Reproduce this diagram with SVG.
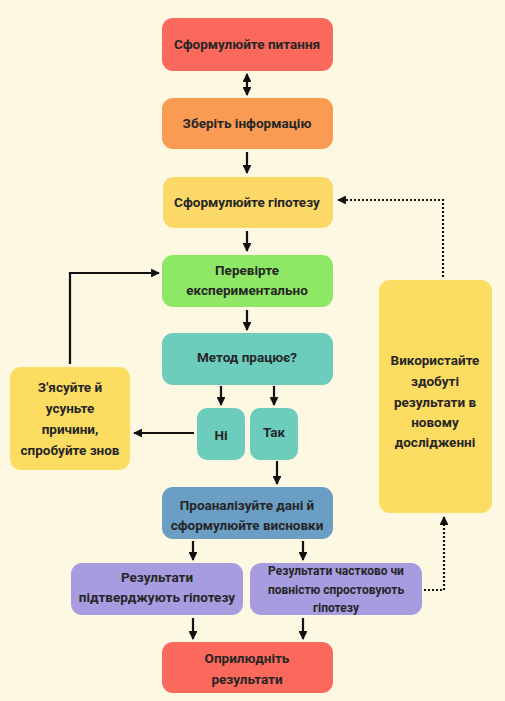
<svg xmlns="http://www.w3.org/2000/svg" width="505" height="701" viewBox="0 0 505 701">
<defs>
<style>
.t{font-family:Roboto,"Noto Sans","Liberation Sans",sans-serif;font-weight:bold;font-size:13.5px;fill:#262626;text-anchor:middle;dominant-baseline:central}
.s{font-size:12px}
.ln{stroke:#111;stroke-width:2.2;fill:none}
.dt{stroke:#111;stroke-width:2.2;fill:none;stroke-dasharray:2 2}
.red{fill:#fa695b}.org{fill:#fa9b53}.yel{fill:#fcd967}.grn{fill:#8fe865}.teal{fill:#6ccdbd}.blu{fill:#6a9ec4}.pur{fill:#a79ce0}.yel2{fill:#fddc62}
</style>
<marker id="a" viewBox="0 0 10 10" refX="9" refY="5" markerWidth="4" markerHeight="4" orient="auto-start-reverse" markerUnits="strokeWidth">
<path d="M0,0 L10,5 L0,10 z" fill="#111"/>
</marker>
</defs>
<rect width="505" height="701" fill="#fdf8e2"/>
<g id="n1"><rect class="red" x="162" y="18" width="171" height="53" rx="11"/><text class="t" x="247" y="44">Сформулюйте питання</text></g>
<g id="n2"><rect class="org" x="162" y="98" width="171" height="51" rx="11"/><text class="t" x="247" y="123">Зберіть інформацію</text></g>
<g id="n3"><rect class="yel" x="163" y="177" width="170" height="51" rx="11"/><text class="t" x="247" y="202">Сформулюйте гіпотезу</text></g>
<g id="n4"><rect class="grn" x="162" y="255" width="171" height="52" rx="11"/><text class="t" x="247" y="270">Перевірте</text><text class="t" x="247" y="290">експериментально</text></g>
<g id="n5"><rect class="teal" x="162" y="333" width="171" height="52" rx="11"/><text class="t" x="247" y="357">Метод працює?</text></g>
<g id="n6"><rect class="teal" x="197" y="408" width="48" height="52" rx="10"/><text class="t" x="221" y="435">Ні</text></g>
<g id="n7"><rect class="teal" x="250" y="408" width="48" height="52" rx="10"/><text class="t" x="274" y="432">Так</text></g>
<g id="n8"><rect class="yel2" x="10" y="367" width="120" height="103" rx="11"/><text class="t" x="70" y="387">З'ясуйте й</text><text class="t" x="70" y="408">усуньте</text><text class="t" x="70" y="429">причини,</text><text class="t" x="70" y="450">спробуйте знов</text></g>
<g id="n9"><rect class="blu" x="162" y="487" width="171" height="52" rx="11"/><text class="t" x="247" y="505">Проаналізуйте дані й</text><text class="t" x="247" y="525">сформулюйте висновки</text></g>
<g id="n10"><rect class="pur" x="71" y="563" width="172" height="52" rx="11"/><text class="t" x="157" y="577">Результати</text><text class="t" x="157" y="597">підтверджують гіпотезу</text></g>
<g id="n11"><rect class="pur" x="250" y="563" width="172" height="52" rx="11"/><text class="t s" x="336" y="571">Результати частково чи</text><text class="t s" x="336" y="590">повністю спростовують</text><text class="t s" x="336" y="608">гіпотезу</text></g>
<g id="n12"><rect class="red" x="162" y="642" width="171" height="51" rx="11"/><text class="t" x="247" y="658">Оприлюдніть</text><text class="t" x="247" y="679">результати</text></g>
<g id="n13"><rect class="yel2" x="379" y="280" width="113" height="233" rx="11"/><text class="t" x="435" y="360">Використайте</text><text class="t" x="435" y="381">здобуті</text><text class="t" x="435" y="402">результати в</text><text class="t" x="435" y="422">новому</text><text class="t" x="435" y="442">дослідженні</text></g>
<g id="connectors">
<line class="ln" x1="247" y1="74" x2="247" y2="95" marker-start="url(#a)" marker-end="url(#a)"/>
<line class="ln" x1="247" y1="152" x2="247" y2="173" marker-end="url(#a)"/>
<line class="ln" x1="247" y1="231" x2="247" y2="251" marker-end="url(#a)"/>
<line class="ln" x1="247" y1="310" x2="247" y2="330" marker-end="url(#a)"/>
<line class="ln" x1="221" y1="386" x2="221" y2="405" marker-end="url(#a)"/>
<line class="ln" x1="274" y1="386" x2="274" y2="405" marker-end="url(#a)"/>
<line class="ln" x1="194" y1="433" x2="134" y2="433" marker-end="url(#a)"/>
<polyline class="ln" points="70,364 70,273 159,273" marker-end="url(#a)"/>
<line class="ln" x1="277" y1="461" x2="277" y2="484" marker-end="url(#a)"/>
<line class="ln" x1="193" y1="541" x2="193" y2="560" marker-end="url(#a)"/>
<line class="ln" x1="303" y1="541" x2="303" y2="560" marker-end="url(#a)"/>
<line class="ln" x1="193" y1="618" x2="193" y2="639" marker-end="url(#a)"/>
<line class="ln" x1="303" y1="618" x2="303" y2="639" marker-end="url(#a)"/>
<polyline class="dt" points="424,590 444,590 444,517" marker-end="url(#a)"/>
<polyline class="dt" points="443,277 443,200 338,200" marker-end="url(#a)"/>
</g>
</svg>
